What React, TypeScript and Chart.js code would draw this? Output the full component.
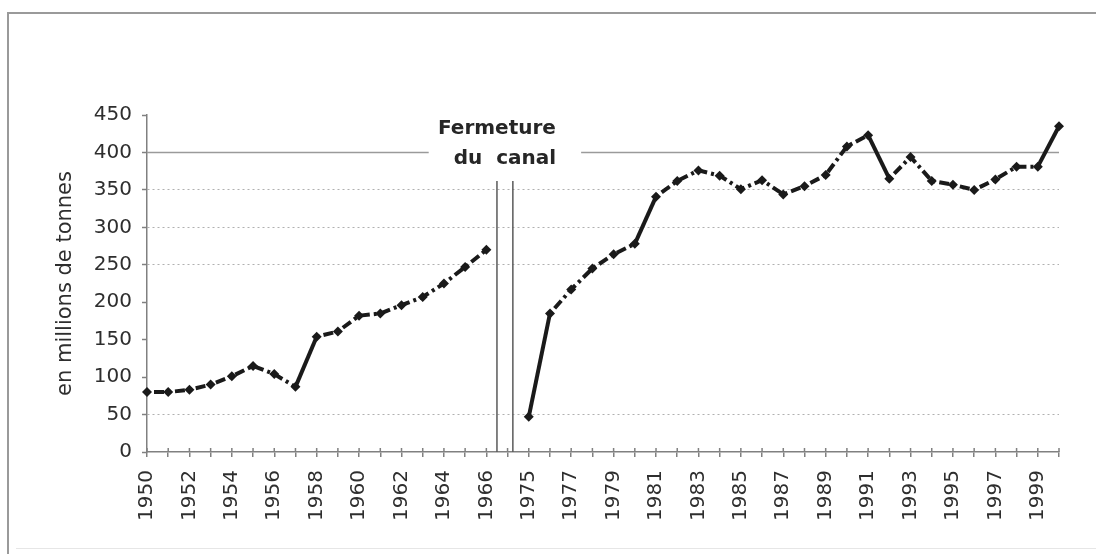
import React, { useEffect, useRef } from 'react';
import { Chart, registerables } from 'chart.js';

Chart.register(...registerables);

// ---- Data ----
const YEARS_BEFORE = [1950, 1951, 1952, 1953, 1954, 1955, 1956, 1957, 1958, 1959, 1960, 1961, 1962, 1963, 1964, 1965, 1966];
const TONNAGE_BEFORE = [80, 80, 83, 90, 101, 115, 104, 87, 154, 161, 182, 185, 196, 207, 225, 247, 270];
const YEARS_AFTER = [1975, 1976, 1977, 1978, 1979, 1980, 1981, 1982, 1983, 1984, 1985, 1986, 1987, 1988, 1989, 1990, 1991, 1992, 1993, 1994, 1995, 1996, 1997, 1998, 1999, 2000];
const TONNAGE_AFTER = [47, 185, 217, 245, 264, 278, 341, 362, 376, 369, 351, 363, 344, 355, 370, 408, 423, 365, 394, 362, 357, 350, 364, 381, 381, 435];
const Y_MIN = 0;
const Y_MAX = 450;
const Y_STEP = 50;
const Y_TITLE = 'en millions de tonnes';
const CLOSURE_TEXT = ['Fermeture', 'du  canal'];

// ---- Styling constants ----
const DOTTED_GRID_VALUES = [50, 250, 300, 350];
const SOLID_GRID_VALUE = 400;
const CLOSURE_LINE_TOP = 362;
const CLOSURE_TEXT_VALUES = [425, 385];
const AXIS_COLOR = '#808080';
const TEXT_COLOR = '#2e2e2e';
const FONT = '"DejaVu Sans", sans-serif';

const labels: string[] = [...YEARS_BEFORE.map(String), '', ...YEARS_AFTER.map(String)];
const values: (number | null)[] = [...TONNAGE_BEFORE, null, ...TONNAGE_AFTER];

const closurePlugin = {
  id: 'closurePlugin',
  beforeDatasetsDraw(chart: any) {
    const { ctx, chartArea, scales } = chart;
    const x = scales.x;
    const y = scales.y;
    const gapIndex = YEARS_BEFORE.length;
    const xl1 = x.getPixelForValue(gapIndex - 0.5);
    const xl2 = x.getPixelForValue(gapIndex + 0.25);
    const y0 = y.getPixelForValue(0);
    ctx.save();
    // tick crosses above the x axis
    ctx.strokeStyle = AXIS_COLOR;
    ctx.lineWidth = 1.5;
    ctx.beginPath();
    for (let i = 0; i < labels.length; i++) {
      const px = x.getPixelForValue(i);
      ctx.moveTo(px, y0 - 4);
      ctx.lineTo(px, y0);
    }
    ctx.stroke();
    // closure vertical lines
    ctx.strokeStyle = '#5a5a5a';
    ctx.lineWidth = 1.5;
    ctx.beginPath();
    const yTop = y.getPixelForValue(CLOSURE_LINE_TOP);
    ctx.moveTo(xl1, yTop);
    ctx.lineTo(xl1, y0);
    ctx.moveTo(xl2, yTop);
    ctx.lineTo(xl2, y0);
    ctx.stroke();
    // text
    ctx.font = 'bold 20px ' + FONT;
    ctx.fillStyle = '#262626';
    ctx.textAlign = 'center';
    ctx.textBaseline = 'alphabetic';
    const cx2 = (xl1 + xl2) / 2;
    ctx.fillText(CLOSURE_TEXT[0], xl1, y.getPixelForValue(CLOSURE_TEXT_VALUES[0]));
    ctx.fillText(CLOSURE_TEXT[1], cx2, y.getPixelForValue(CLOSURE_TEXT_VALUES[1]));
    const w = ctx.measureText(CLOSURE_TEXT[1]).width;
    // solid 400 line with gap for the text
    const y400 = y.getPixelForValue(SOLID_GRID_VALUE);
    ctx.strokeStyle = '#9a9a9a';
    ctx.lineWidth = 1.5;
    ctx.beginPath();
    ctx.moveTo(chartArea.left, y400);
    ctx.lineTo(cx2 - w / 2 - 25, y400);
    ctx.moveTo(cx2 + w / 2 + 25, y400);
    ctx.lineTo(chartArea.right, y400);
    ctx.stroke();
    ctx.restore();
  },
};

export default function App() {
  const canvasRef = useRef<HTMLCanvasElement | null>(null);

  useEffect(() => {
    document.body.style.margin = '0';
    const canvas = canvasRef.current;
    if (!canvas) return;
    Chart.defaults.font.family = FONT;
    const chart = new Chart(canvas, {
      type: 'line',
      data: {
        labels,
        datasets: [
          {
            data: values,
            borderColor: '#1a1a1a',
            backgroundColor: '#1a1a1a',
            borderWidth: 4,
            borderCapStyle: 'butt',
            pointStyle: 'rectRot',
            pointRadius: 5,
            pointBorderWidth: 0,
            pointBackgroundColor: '#1a1a1a',
            tension: 0,
            spanGaps: false,
            segment: {
              borderDash: (c: any) =>
                Math.abs(c.p1.parsed.y - c.p0.parsed.y) > 50 ? [] : [3, 4, 10, 4],
            },
          } as any,
        ],
      },
      options: {
        responsive: false,
        animation: false,
        layout: { padding: { left: 49, top: 115, right: 37, bottom: 0 } },
        plugins: {
          legend: { display: false },
          tooltip: { enabled: false },
        },
        scales: {
          x: {
            type: 'category',
            offset: false,
            grid: {
              drawOnChartArea: false,
              drawTicks: true,
              tickLength: 5,
              color: AXIS_COLOR,
              lineWidth: 1.5,
            },
            border: { color: AXIS_COLOR, width: 1.5 },
            ticks: {
              autoSkip: false,
              maxRotation: 90,
              minRotation: 90,
              padding: 13,
              color: TEXT_COLOR,
              font: { size: 20 },
              callback: (_v: any, i: number) => (i % 2 === 0 ? labels[i] : ''),
            },
            afterFit: (s: any) => {
              s.height = 102;
            },
          },
          y: {
            min: Y_MIN,
            max: Y_MAX,
            ticks: {
              stepSize: Y_STEP,
              padding: 10,
              color: TEXT_COLOR,
              font: { size: 20 },
            },
            grid: {
              color: (c: any) =>
                c.tick && DOTTED_GRID_VALUES.includes(c.tick.value) ? '#b0b0b0' : 'rgba(0,0,0,0)',
              lineWidth: 1,
              tickColor: AXIS_COLOR,
              tickWidth: 1.5,
              tickLength: 5,
            },
            border: { color: AXIS_COLOR, width: 1.5, dash: [2, 3] },
            title: {
              display: true,
              text: Y_TITLE,
              color: TEXT_COLOR,
              font: { size: 21 },
              padding: { top: 4, bottom: 4 },
            },
            afterFit: (s: any) => {
              s.width = 98;
            },
          },
        },
      } as any,
      plugins: [closurePlugin],
    });
    return () => chart.destroy();
  }, []);

  return (
    <div style={{ position: 'relative', width: 1096, height: 554, overflow: 'hidden', background: '#fff' }}>
      <div
        style={{
          position: 'absolute',
          left: 7,
          top: 12,
          width: 1200,
          height: 600,
          borderLeft: '2px solid #9a9a9a',
          borderTop: '2px solid #9a9a9a',
        }}
      />
      <div style={{ position: 'absolute', left: 16, right: 0, top: 548, height: 1, background: '#e6e6e6' }} />
      <canvas
        ref={canvasRef}
        width={1096}
        height={554}
        style={{ position: 'absolute', left: 0, top: 0, width: 1096, height: 554 }}
      />
    </div>
  );
}
